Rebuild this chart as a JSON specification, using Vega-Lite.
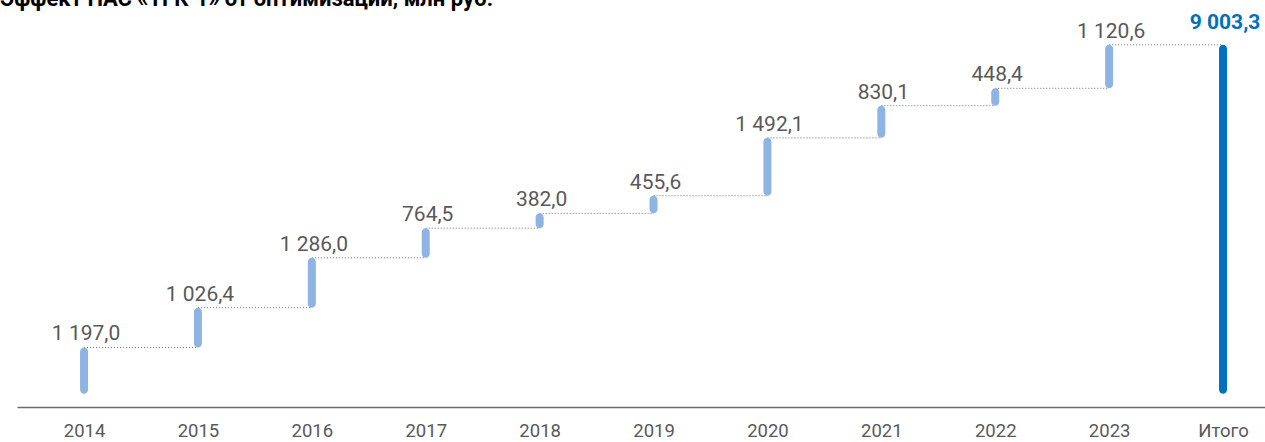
{
  "$schema": "https://vega.github.io/schema/vega-lite/v6.json",
  "width": 1248,
  "height": 407,
  "autosize": "none",
  "padding": {"left": 17, "top": 0, "right": 0, "bottom": 35},
  "title": {
    "text": "Эффект ПАС «ТГК-1» от оптимизации, млн руб.",
    "anchor": "start",
    "frame": "group",
    "font": "Roboto",
    "fontSize": 22,
    "fontWeight": "bold",
    "color": "#000000",
    "baseline": "alphabetic",
    "offset": 0,
    "dx": -17,
    "dy": 28
  },
  "data": {
    "values": [
      {"cat": "2014", "start": 0, "end": 1197.0, "next": "2015", "label": "1 197,0", "type": "step"},
      {"cat": "2015", "start": 1197.0, "end": 2223.4, "next": "2016", "label": "1 026,4", "type": "step"},
      {"cat": "2016", "start": 2223.4, "end": 3509.4, "next": "2017", "label": "1 286,0", "type": "step"},
      {"cat": "2017", "start": 3509.4, "end": 4273.9, "next": "2018", "label": "764,5", "type": "step"},
      {"cat": "2018", "start": 4273.9, "end": 4655.9, "next": "2019", "label": "382,0", "type": "step"},
      {"cat": "2019", "start": 4655.9, "end": 5111.5, "next": "2020", "label": "455,6", "type": "step"},
      {"cat": "2020", "start": 5111.5, "end": 6603.6, "next": "2021", "label": "1 492,1", "type": "step"},
      {"cat": "2021", "start": 6603.6, "end": 7433.7, "next": "2022", "label": "830,1", "type": "step"},
      {"cat": "2022", "start": 7433.7, "end": 7882.1, "next": "2023", "label": "448,4", "type": "step"},
      {"cat": "2023", "start": 7882.1, "end": 9003.3, "next": "Итого", "label": "1 120,6", "type": "step"},
      {"cat": "Итого", "start": 0, "end": 9003.3, "next": null, "label": "9 003,3", "type": "total"}
    ]
  },
  "encoding": {
    "x": {
      "field": "cat",
      "type": "ordinal",
      "sort": null,
      "scale": {"type": "point", "padding": 0.4785, "align": 0.615},
      "axis": {
        "title": null,
        "ticks": false,
        "labelAngle": 0,
        "labelFont": "Roboto",
        "labelFontSize": 18.5,
        "labelColor": "#595959",
        "labelPadding": 14,
        "domainColor": "#6b6b6b",
        "domainWidth": 1.5
      }
    }
  },
  "layer": [
    {
      "transform": [{"filter": "datum.next != null"}],
      "mark": {"type": "rule", "color": "#6f6f6f", "strokeWidth": 1, "strokeDash": [1, 2]},
      "encoding": {
        "x2": {"field": "next"},
        "y": {"field": "end", "type": "quantitative", "scale": {"domain": [-340, 10160], "nice": false, "zero": false}, "axis": null}
      }
    },
    {
      "mark": {"type": "bar", "width": 8, "cornerRadius": 4},
      "encoding": {
        "y": {"field": "start", "type": "quantitative"},
        "y2": {"field": "end"},
        "color": {"field": "type", "type": "nominal", "scale": {"domain": ["step", "total"], "range": ["#8EB4E3", "#0070C0"]}, "legend": null}
      }
    },
    {
      "transform": [{"filter": "datum.type == 'step'"}],
      "mark": {"type": "text", "baseline": "alphabetic", "dy": -7, "dx": 2, "font": "Roboto", "fontSize": 21, "color": "#595959"},
      "encoding": {
        "y": {"field": "end", "type": "quantitative"},
        "text": {"field": "label"}
      }
    },
    {
      "transform": [{"filter": "datum.type == 'total'"}],
      "mark": {"type": "text", "baseline": "alphabetic", "dy": -16, "dx": 2, "font": "Roboto", "fontSize": 21, "fontWeight": "bold", "color": "#0070C0"},
      "encoding": {
        "y": {"field": "end", "type": "quantitative"},
        "text": {"field": "label"}
      }
    }
  ],
  "config": {"view": {"stroke": null}}
}
